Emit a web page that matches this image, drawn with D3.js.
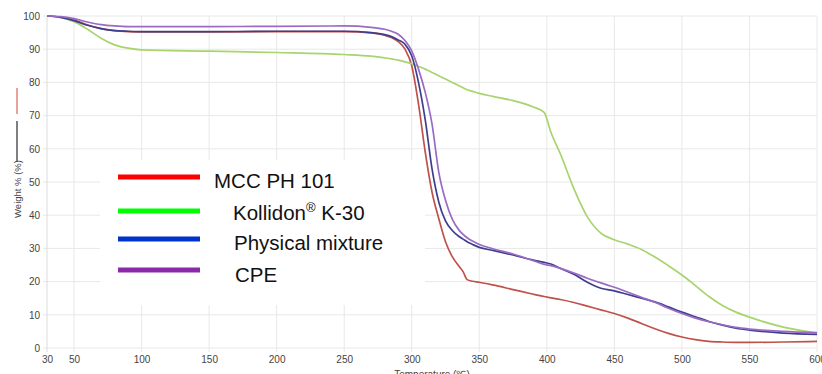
<!DOCTYPE html>
<html><head><meta charset="utf-8">
<script src="https://cdn.jsdelivr.net/npm/d3@7/dist/d3.min.js"></script>
<style>body{margin:0;background:#fff}svg{display:block}</style>
</head><body>
<svg id="c" width="822" height="374"></svg>
<script>
const temps = [30,40,50,60,70,80,90,100,150,200,250,270,280,285,290,295,300,305,310,315,320,325,330,335,338,341,345,350,360,375,390,398,403,410,420,430,440,450,460,470,480,490,500,510,520,530,540,550,575,600];
const mcc = [100,99.7,98.8,97.3,96.2,95.6,95.3,95.2,95.2,95.3,95.3,94.9,94.2,93.5,92.3,90,85,73.5,59,47,39,32,27.5,24.6,23,20.6,20.1,19.8,19,17.6,16.2,15.5,15.1,14.6,13.7,12.6,11.5,10.4,9,7.4,5.8,4.4,3.3,2.5,2.0,1.8,1.7,1.7,1.8,2.0];
const kollidon = [100,99.6,98.3,96,93.3,91.3,90.3,89.8,89.4,89,88.4,87.9,87.4,87.1,86.7,86.2,85.6,84.8,84,83,82,81,80,79,78.4,77.8,77.3,76.7,75.8,74.5,72.6,71,65,58.5,48,39.5,34.6,32.6,31.3,29.7,27.4,24.8,22,18.8,15.5,12.8,10.8,9.3,6.3,4.5];
const physical = [100,99.6,98.6,97.2,96.2,95.6,95.4,95.3,95.3,95.4,95.4,95,94.4,93.8,92.8,91.5,88,80,68.7,54,44,38.3,35.4,33.6,32.8,32,31.2,30.3,29.4,28,26.5,25.8,25.3,24,22.2,19.8,18,17.2,16.1,15,13.9,12.4,10.8,9.4,8,6.9,6,5.4,4.5,4.1];
const cpe = [100,99.8,99.2,98.2,97.4,97,96.8,96.8,96.8,96.9,97,96.6,96,95.4,94.5,92.6,89.5,84,77,67.5,53,44.5,38.8,35.5,34.2,33.2,32.2,31.2,29.9,28.3,26.3,25.2,24.8,24,22.6,21,19.6,18.3,16.8,15.3,13.8,12,10.4,9,7.9,7,6.2,5.7,5,4.6];
const xTicks = [30,50,100,150,200,250,300,350,400,450,500,550,600];
const yTicks = [0,10,20,30,40,50,60,70,80,90,100];
const seriesNames = ["MCC PH 101","Kollidon","Physical mixture","CPE"];
const curveColors = ["#c0524b","#a8d46e","#3d3f8e","#9a6ac4"];
const legendColors = ["#ff0000","#00ff00","#0033cc","#8a2aa8"];

const svg = d3.select("#c");
const x = d3.scaleLinear().domain([30,600]).range([47,817]);
const y = d3.scaleLinear().domain([0,100]).range([348,16]);

// grid
const g = svg.append("g");
g.selectAll(".hg").data(yTicks).enter().append("line")
  .attr("x1",43).attr("x2",817).attr("y1",d=>y(d)).attr("y2",d=>y(d))
  .attr("stroke","#e8e8e8").attr("stroke-width",1);
g.selectAll(".vg").data(xTicks).enter().append("line")
  .attr("x1",d=>x(d)).attr("x2",d=>x(d)).attr("y1",16).attr("y2",352)
  .attr("stroke",d=>d===30?"#dcdcdc":"#e8e8e8").attr("stroke-width",1);

// axis labels
svg.append("g").attr("transform","translate(40,0)")
  .call(d3.axisLeft(y).tickValues(yTicks).tickSize(0).tickPadding(0))
  .call(a=>a.select(".domain").remove())
  .call(a=>a.selectAll("text").attr("fill","#444").style("font","10px 'Liberation Sans', Arial, sans-serif"));
svg.append("g").attr("transform","translate(0,356)")
  .call(d3.axisBottom(x).tickValues(xTicks).tickSize(0).tickPadding(0))
  .call(a=>a.select(".domain").remove())
  .call(a=>a.selectAll("text").attr("fill","#444").style("font","10px 'Liberation Sans', Arial, sans-serif"));

svg.append("text").attr("x",432).attr("y",378).attr("text-anchor","middle")
  .attr("fill","#444").style("font","10px 'Liberation Sans', Arial, sans-serif")
  .text("Temperature (℃)");
svg.append("text").attr("transform","translate(21,189) rotate(-90)").attr("text-anchor","middle")
  .attr("fill","#444").style("font","9.5px 'Liberation Sans', Arial, sans-serif")
  .text("Weight % (%)");
svg.append("line").attr("x1",17).attr("x2",17).attr("y1",88).attr("y2",114).attr("stroke","#e8a49a").attr("stroke-width",2);
svg.append("line").attr("x1",17).attr("x2",17).attr("y1",121).attr("y2",162).attr("stroke","#555").attr("stroke-width",1.5);

// white legend box
svg.append("rect").attr("x",100).attr("y",160).attr("width",325).attr("height",145).attr("fill","#fff");

// curves
const line = d3.line().x(d=>x(d[0])).y(d=>y(d[1])).curve(d3.curveMonotoneX);
[mcc,kollidon,physical,cpe].forEach((vals,i)=>{
  svg.append("path").datum(temps.map((t,j)=>[t,vals[j]]))
    .attr("d",line).attr("fill","none").attr("stroke",curveColors[i]).attr("stroke-width",1.7);
});

// legend
const legY = [177,211,239,270];
const legTx = [214,233,234,235];
const legBase = [188,220,250,282];
legY.forEach((ly,i)=>{
  svg.append("line").attr("x1",118).attr("x2",200).attr("y1",ly).attr("y2",ly)
    .attr("stroke",legendColors[i]).attr("stroke-width",5);
  const t = svg.append("text").attr("x",legTx[i]).attr("y",legBase[i]).attr("fill","#111")
    .style("font","20.5px 'Liberation Sans', Arial, sans-serif");
  if(i===1){
    t.append("tspan").text("Kollidon");
    t.append("tspan").attr("dy",-8).style("font-size","13px").text("®");
    t.append("tspan").attr("dy",8).text(" K-30");
  } else t.text(seriesNames[i]);
});
</script>
</body></html>
